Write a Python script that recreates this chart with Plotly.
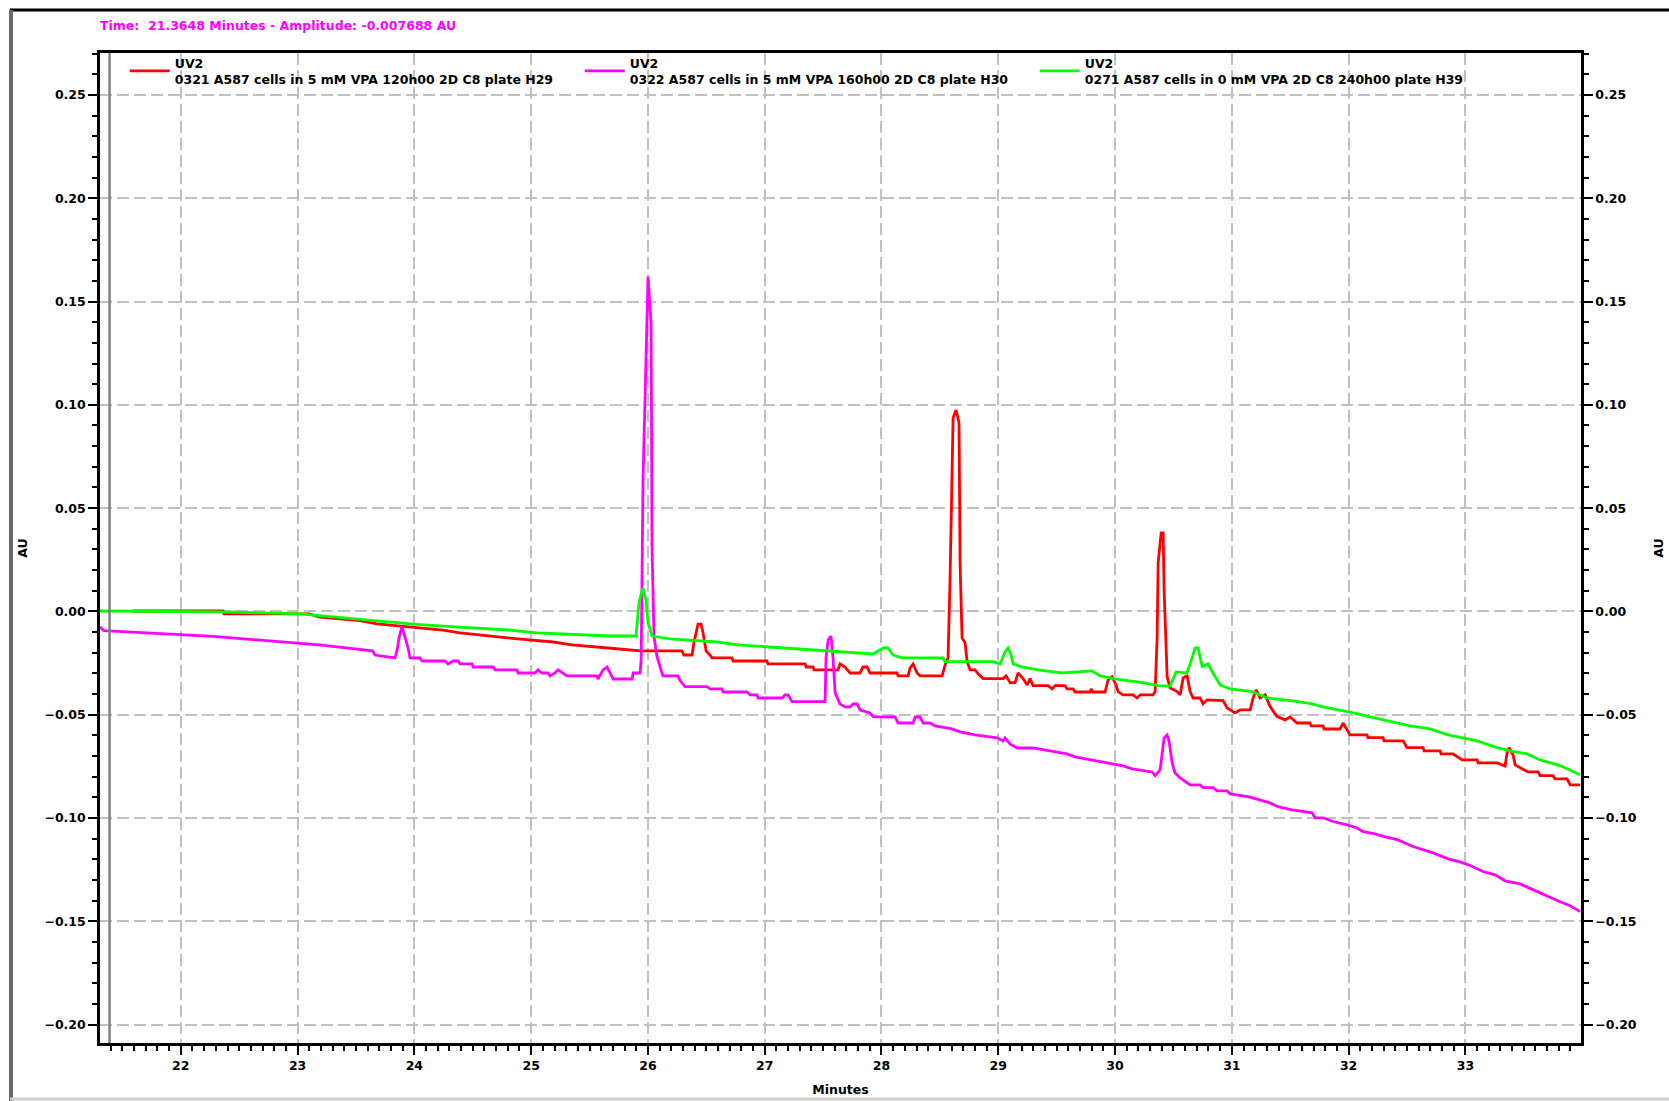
import plotly.graph_objects as go

# ---------------- data ----------------
x_ticks = [22, 23, 24, 25, 26, 27, 28, 29, 30, 31, 32, 33]
y_ticks = [-0.20, -0.15, -0.10, -0.05, 0.00, 0.05, 0.10, 0.15, 0.20, 0.25]

red_name = "UV2<br>0321 A587 cells in 5 mM VPA 120h00 2D C8 plate H29"
magenta_name = "UV2<br>0322 A587 cells in 5 mM VPA 160h00 2D C8 plate H30"
green_name = "UV2<br>0271 A587 cells in 0 mM VPA 2D C8 240h00 plate H39"

red_t = [21.591, 22.361, 22.370, 23.098, 23.192, 23.530, 23.680, 23.980, 24.245, 24.391,
         24.631, 24.888, 25.188, 25.350, 25.659, 25.933, 26.292, 26.309, 26.378, 26.395,
         26.429, 26.455, 26.472, 26.498, 26.532, 26.549, 26.720, 26.729, 27.020, 27.028,
         27.346, 27.355, 27.414, 27.423, 27.628, 27.645, 27.688, 27.731, 27.816, 27.842,
         27.876, 27.902, 28.133, 28.142, 28.228, 28.245, 28.271, 28.305, 28.331, 28.519,
         28.545, 28.570, 28.587, 28.613, 28.639, 28.664, 28.673, 28.690, 28.716, 28.733,
         28.759, 28.802, 28.827, 28.870, 29.041, 29.067, 29.101, 29.144, 29.170, 29.213,
         29.247, 29.272, 29.298, 29.426, 29.461, 29.487, 29.572, 29.589, 29.641, 29.658,
         29.786, 29.795, 29.812, 29.915, 29.940, 29.974, 30.009, 30.026, 30.069, 30.155,
         30.189, 30.215, 30.326, 30.343, 30.360, 30.369, 30.395, 30.412, 30.420, 30.446,
         30.471, 30.531, 30.557, 30.583, 30.617, 30.643, 30.669, 30.728, 30.754, 30.788,
         30.925, 30.960, 31.028, 31.071, 31.157, 31.182, 31.208, 31.242, 31.285, 31.328,
         31.388, 31.456, 31.499, 31.559, 31.670, 31.679, 31.782, 31.790, 31.927, 31.952,
         32.013, 32.158, 32.167, 32.295, 32.304, 32.467, 32.501, 32.638, 32.647, 32.784,
         32.792, 32.895, 32.972, 33.101, 33.109, 33.272, 33.340, 33.357, 33.374, 33.409,
         33.426, 33.486, 33.537, 33.623, 33.640, 33.751, 33.768, 33.871, 33.897, 33.983]
red_au = [0.0002, 0.0002, -0.0012, -0.0012, -0.0027, -0.0045, -0.0060, -0.0075, -0.0090, -0.0104,
          -0.0119, -0.0133, -0.0148, -0.0162, -0.0177, -0.0191, -0.0191, -0.0211, -0.0211, -0.0146,
          -0.0061, -0.0061, -0.0104, -0.0191, -0.0211, -0.0225, -0.0225, -0.0240, -0.0240, -0.0254,
          -0.0254, -0.0269, -0.0269, -0.0283, -0.0283, -0.0254, -0.0269, -0.0298, -0.0298, -0.0269,
          -0.0269, -0.0298, -0.0298, -0.0312, -0.0312, -0.0273, -0.0254, -0.0298, -0.0312, -0.0312,
          -0.0259, -0.0225, 0.0152, 0.0937, 0.0975, 0.0912, 0.0235, -0.0128, -0.0152, -0.0243,
          -0.0283, -0.0283, -0.0302, -0.0325, -0.0325, -0.0312, -0.0345, -0.0345, -0.0298, -0.0325,
          -0.0356, -0.0325, -0.0359, -0.0359, -0.0375, -0.0359, -0.0359, -0.0375, -0.0375, -0.0390,
          -0.0390, -0.0375, -0.0390, -0.0390, -0.0332, -0.0316, -0.0356, -0.0388, -0.0404, -0.0404,
          -0.0419, -0.0404, -0.0404, -0.0388, -0.0138, 0.0235, 0.0380, 0.0380, 0.0104, -0.0316,
          -0.0370, -0.0388, -0.0404, -0.0322, -0.0312, -0.0388, -0.0419, -0.0419, -0.0448, -0.0428,
          -0.0432, -0.0467, -0.0491, -0.0477, -0.0477, -0.0419, -0.0380, -0.0419, -0.0404, -0.0461,
          -0.0509, -0.0525, -0.0511, -0.0540, -0.0540, -0.0554, -0.0554, -0.0569, -0.0569, -0.0540,
          -0.0598, -0.0598, -0.0611, -0.0611, -0.0627, -0.0627, -0.0659, -0.0659, -0.0675, -0.0675,
          -0.0690, -0.0690, -0.0719, -0.0719, -0.0733, -0.0733, -0.0748, -0.0685, -0.0660, -0.0695,
          -0.0743, -0.0762, -0.0777, -0.0777, -0.0795, -0.0795, -0.0811, -0.0811, -0.0840, -0.0840]

magenta_t = [21.308, 21.342, 22.276, 23.184, 23.642, 23.663, 23.834, 23.851, 23.869, 23.894,
             23.903, 23.929, 23.946, 23.963, 24.048, 24.066, 24.263, 24.288, 24.331, 24.374,
             24.391, 24.494, 24.503, 24.674, 24.691, 24.879, 24.888, 25.033, 25.059, 25.093,
             25.145, 25.162, 25.205, 25.230, 25.273, 25.307, 25.564, 25.572, 25.616, 25.650,
             25.676, 25.702, 25.864, 25.873, 25.933, 25.942, 25.958, 25.984, 26.001, 26.027,
             26.035, 26.052, 26.078, 26.112, 26.129, 26.258, 26.275, 26.318, 26.506, 26.532,
             26.635, 26.643, 26.849, 26.874, 26.934, 26.943, 27.149, 27.174, 27.200, 27.234,
             27.517, 27.525, 27.543, 27.568, 27.585, 27.603, 27.645, 27.688, 27.731, 27.757,
             27.791, 27.817, 27.902, 27.928, 28.116, 28.142, 28.271, 28.288, 28.331, 28.356,
             28.416, 28.459, 28.604, 28.673, 28.802, 28.990, 29.041, 29.058, 29.101, 29.161,
             29.298, 29.443, 29.589, 29.658, 29.786, 29.932, 30.069, 30.146, 30.317, 30.343,
             30.386, 30.420, 30.446, 30.463, 30.489, 30.514, 30.557, 30.600, 30.643, 30.728,
             30.754, 30.840, 30.874, 30.960, 30.985, 31.148, 31.234, 31.328, 31.396, 31.516,
             31.688, 31.713, 31.782, 31.867, 31.987, 32.073, 32.124, 32.227, 32.313, 32.424,
             32.552, 32.638, 32.724, 32.852, 32.955, 33.041, 33.152, 33.255, 33.340, 33.469,
             33.580, 33.683, 33.811, 33.897, 33.983]
magenta_au = [-0.0074, -0.0093, -0.0121, -0.0162, -0.0191, -0.0211, -0.0225, -0.0191, -0.0128, -0.0074,
              -0.0090, -0.0138, -0.0177, -0.0225, -0.0225, -0.0240, -0.0240, -0.0254, -0.0240, -0.0240,
              -0.0254, -0.0254, -0.0269, -0.0269, -0.0283, -0.0283, -0.0298, -0.0298, -0.0283, -0.0298,
              -0.0298, -0.0312, -0.0298, -0.0283, -0.0298, -0.0312, -0.0312, -0.0327, -0.0283, -0.0269,
              -0.0298, -0.0327, -0.0327, -0.0298, -0.0298, -0.0235, 0.0636, 0.1290, 0.1621, 0.1396,
              0.0312, -0.0122, -0.0219, -0.0283, -0.0312, -0.0312, -0.0335, -0.0364, -0.0364, -0.0375,
              -0.0375, -0.0390, -0.0390, -0.0404, -0.0404, -0.0419, -0.0419, -0.0404, -0.0404, -0.0437,
              -0.0437, -0.0225, -0.0138, -0.0119, -0.0225, -0.0394, -0.0448, -0.0462, -0.0462, -0.0448,
              -0.0448, -0.0477, -0.0491, -0.0509, -0.0511, -0.0540, -0.0540, -0.0511, -0.0511, -0.0540,
              -0.0540, -0.0554, -0.0569, -0.0583, -0.0598, -0.0612, -0.0627, -0.0612, -0.0641, -0.0661,
              -0.0661, -0.0675, -0.0690, -0.0704, -0.0719, -0.0733, -0.0748, -0.0762, -0.0777, -0.0795,
              -0.0767, -0.0612, -0.0598, -0.0630, -0.0733, -0.0782, -0.0806, -0.0824, -0.0840, -0.0840,
              -0.0853, -0.0853, -0.0869, -0.0869, -0.0883, -0.0898, -0.0912, -0.0927, -0.0945, -0.0961,
              -0.0975, -0.0999, -0.0999, -0.1017, -0.1033, -0.1048, -0.1066, -0.1077, -0.1091, -0.1106,
              -0.1138, -0.1154, -0.1169, -0.1198, -0.1212, -0.1230, -0.1259, -0.1275, -0.1304, -0.1319,
              -0.1348, -0.1372, -0.1405, -0.1425, -0.1453]

green_t = [21.308, 22.353, 23.021, 23.321, 23.680, 23.989, 24.348, 24.802, 25.050, 25.676,
           25.898, 25.924, 25.958, 25.984, 26.001, 26.035, 26.190, 26.592, 26.772, 27.174,
           27.534, 27.928, 28.014, 28.056, 28.099, 28.176, 28.527, 28.544, 28.956, 29.016,
           29.058, 29.084, 29.110, 29.127, 29.204, 29.341, 29.547, 29.803, 29.872, 30.000,
           30.240, 30.369, 30.471, 30.523, 30.574, 30.617, 30.643, 30.686, 30.711, 30.746,
           30.797, 30.831, 30.900, 30.985, 31.174, 31.302, 31.525, 31.688, 31.782, 31.927,
           32.073, 32.184, 32.415, 32.527, 32.698, 32.852, 32.981, 33.101, 33.272, 33.383,
           33.529, 33.640, 33.811, 33.923, 33.983]
green_au = [0.0002, -0.0002, -0.0012, -0.0027, -0.0045, -0.0061, -0.0075, -0.0090, -0.0104, -0.0119,
            -0.0119, 0.0046, 0.0114, 0.0051, -0.0056, -0.0119, -0.0133, -0.0148, -0.0162, -0.0177,
            -0.0191, -0.0206, -0.0177, -0.0177, -0.0211, -0.0225, -0.0225, -0.0243, -0.0243, -0.0254,
            -0.0196, -0.0177, -0.0211, -0.0254, -0.0269, -0.0283, -0.0298, -0.0288, -0.0312, -0.0327,
            -0.0345, -0.0359, -0.0361, -0.0293, -0.0296, -0.0296, -0.0254, -0.0177, -0.0177, -0.0267,
            -0.0254, -0.0291, -0.0356, -0.0375, -0.0388, -0.0419, -0.0433, -0.0448, -0.0462, -0.0477,
            -0.0495, -0.0511, -0.0540, -0.0554, -0.0569, -0.0598, -0.0612, -0.0627, -0.0659, -0.0675,
            -0.0690, -0.0719, -0.0746, -0.0775, -0.0791]

header_text = "Time:  21.3648 Minutes - Amplitude: -0.007688 AU"
cursor_time = 21.39

x_range = [21.308, 33.99]
y_range = [-0.2089, 0.2703]

# ---------------- figure ----------------
FONT = "DejaVu Sans"
FS = 12.5
fig = go.Figure()

fig.add_trace(go.Scatter(x=red_t, y=red_au, mode="lines", name=red_name,
                         line=dict(color="#ff0000", width=2.8)))
fig.add_trace(go.Scatter(x=magenta_t, y=magenta_au, mode="lines", name=magenta_name,
                         line=dict(color="#ff00ff", width=2.8)))
fig.add_trace(go.Scatter(x=green_t, y=green_au, mode="lines", name=green_name,
                         line=dict(color="#00ff00", width=2.8)))
# invisible trace to drive the right-hand axis
fig.add_trace(go.Scatter(x=[x_range[0]], y=[0], yaxis="y2", mode="markers",
                         marker=dict(opacity=0), showlegend=False, hoverinfo="skip"))

tickfont = dict(family=FONT, size=FS, color="black", weight="bold")
titlefont = dict(family=FONT, size=FS, color="black", weight="bold")

fig.update_layout(
    width=1669, height=1101,
    margin=dict(l=100, r=88, t=53, b=58, autoexpand=False),
    paper_bgcolor="white", plot_bgcolor="white",
    font=dict(family=FONT, size=FS, color="black"),
    showlegend=True,
    legend=dict(orientation="h", x=0.0167, y=1.005, xanchor="left", yanchor="top",
                entrywidth=400, entrywidthmode="pixels", bgcolor="rgba(0,0,0,0)",
                font=dict(family=FONT, size=FS, color="black", weight="bold"),
                itemwidth=40, tracegroupgap=0, valign="middle"),
    xaxis=dict(range=x_range, tickvals=x_ticks, ticktext=[str(v) for v in x_ticks],
               showline=True, linecolor="black", linewidth=2.5, mirror=True,
               ticks="outside", ticklen=9, tickwidth=2, tickcolor="black",
               minor=dict(dtick=0.1, ticks="outside", ticklen=5, tickwidth=2, tickcolor="black",
                          showgrid=False),
               showgrid=True, gridcolor="#c0c0c0", gridwidth=2, griddash="12px,5px",
               zeroline=False, tickfont=tickfont,
               title=dict(text="Minutes", font=titlefont, standoff=14)),
    yaxis=dict(range=y_range, tickvals=y_ticks, tickformat=".2f",
               showline=True, linecolor="black", linewidth=2.5,
               ticks="outside", ticklen=9, tickwidth=2, tickcolor="black",
               minor=dict(dtick=0.01, ticks="outside", ticklen=5, tickwidth=2, tickcolor="black",
                          showgrid=False),
               showgrid=True, gridcolor="#c0c0c0", gridwidth=2, griddash="12px,5px",
               zeroline=False, tickfont=tickfont,
               title=dict(text="AU", font=titlefont, standoff=15)),
    yaxis2=dict(range=y_range, tickvals=y_ticks, tickformat=".2f", overlaying="y", side="right",
                showline=True, linecolor="black", linewidth=2.5,
                ticks="outside", ticklen=9, tickwidth=2, tickcolor="black",
                minor=dict(dtick=0.01, ticks="outside", ticklen=5, tickwidth=2, tickcolor="black"),
                showgrid=False, zeroline=False, tickfont=tickfont,
                title=dict(text="AU", font=titlefont, standoff=19)),
)

# cursor line
fig.add_shape(type="line", xref="x", yref="paper", x0=cursor_time, x1=cursor_time, y0=0, y1=1,
              line=dict(color="#808080", width=2.5))

# window frame lines
fig.add_shape(type="line", xref="paper", yref="paper", x0=-0.0608, x1=1.06, y0=1.0434, y1=1.0434,
              line=dict(color="black", width=3))
fig.add_shape(type="line", xref="paper", yref="paper", x0=-0.0601, x1=-0.0601, y0=1.0434, y1=-0.06,
              line=dict(color="#6a6a6a", width=4))
fig.add_shape(type="line", xref="paper", yref="paper", x0=-0.0608, x1=1.06, y0=-0.0566, y1=-0.0566,
              line=dict(color="#d4d0c8", width=3))

fig.add_annotation(text=header_text, xref="paper", yref="paper", x=-0.0014, y=1.028,
                   xanchor="left", yanchor="middle", showarrow=False,
                   font=dict(family=FONT, size=FS, color="#ff00ff", weight="bold"))

fig.write_html("out.html", config={"displayModeBar": False},
               post_script="document.body.style.margin='0px';")
